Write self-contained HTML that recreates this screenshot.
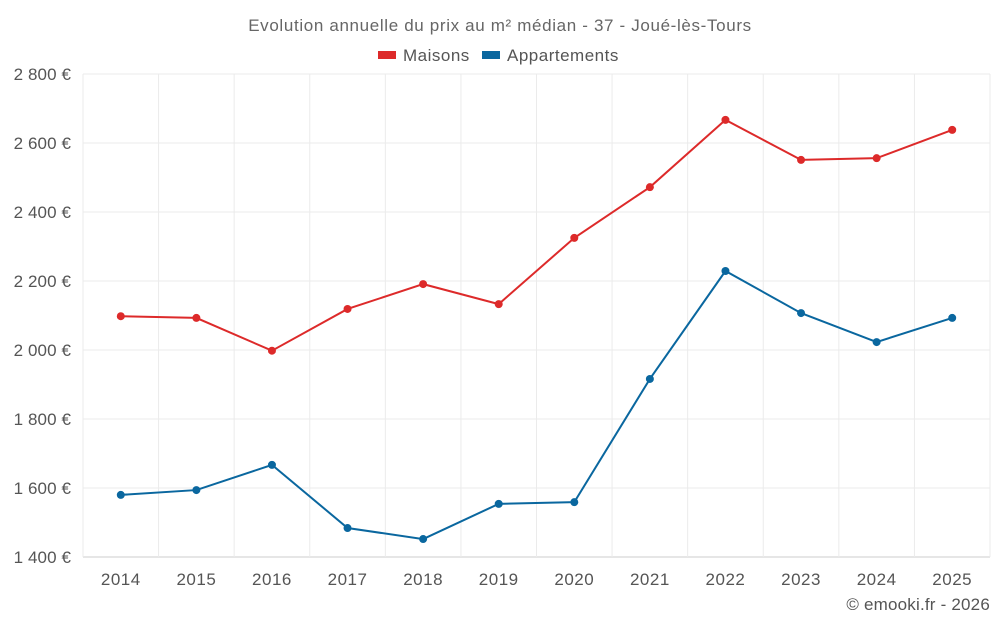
<!DOCTYPE html>
<html><head><meta charset="utf-8"><style>
body{margin:0;background:#fff;font-family:"Liberation Sans",sans-serif;}
svg text{font-family:"Liberation Sans",sans-serif;letter-spacing:0.5px;}
</style></head><body>
<svg id="chart" width="1000" height="625" viewBox="0 0 1000 625">
<text x="500" y="31" text-anchor="middle" font-size="17" fill="#666" style="letter-spacing:0.65px">Evolution annuelle du prix au m² médian - 37 - Joué-lès-Tours</text>
<g>
<g><rect x="378" y="51" width="18" height="8" fill="#dd2a2a"/><text x="403" y="61" font-size="17" fill="#555">Maisons</text></g>
<g><rect x="482" y="51" width="18" height="8" fill="#0a679f"/><text x="507" y="61" font-size="17" fill="#555">Appartements</text></g>
</g>
<g id="grid"></g><g id="axes"></g><g id="series"></g>
<text x="990" y="610" text-anchor="end" font-size="17" fill="#555" style="letter-spacing:0.2px">© emooki.fr - 2026</text>
</svg>
<script>
const years=["2014","2015","2016","2017","2018","2019","2020","2021","2022","2023","2024","2025"];
const maisons=[2098,2093,1998,2119,2191,2133,2325,2472,2667,2551,2556,2638];
const appartements=[1580,1594,1667,1484,1452,1554,1559,1916,2229,2107,2023,2093];
const yTicks=[1400,1600,1800,2000,2200,2400,2600,2800];
const L=83,R=990,T=74,B=557,yMin=1400,yMax=2800;
const NS="http://www.w3.org/2000/svg";
const bw=(R-L)/years.length;
const xs=i=>L+bw*(i+0.5);
const ys=v=>B-(v-yMin)/(yMax-yMin)*(B-T);
function mk(tag,attrs,parent){const e=document.createElementNS(NS,tag);for(const k in attrs)e.setAttribute(k,attrs[k]);parent.appendChild(e);return e;}
const grid=document.getElementById('grid'),axes=document.getElementById('axes'),ser=document.getElementById('series');
yTicks.forEach(t=>{
 const l=mk('line',{x1:L,x2:R,y1:ys(t),y2:ys(t),stroke:t===yMin?'#ccc':'#ebebeb'},grid);
 
 
 const tx=mk('text',{x:L-12,y:ys(t)+6,'text-anchor':'end','font-size':17,fill:'#555',style:'letter-spacing:0.1px'},axes);
 tx.textContent=t.toLocaleString('fr-FR').replace(/\u202f|\u00a0/g,' ')+' €';
 
 
});
for(let i=0;i<=years.length;i++){
 const l=mk('line',{x1:L+bw*i,x2:L+bw*i,y1:T,y2:B,stroke:'#ebebeb'},grid);
 
 
}
years.forEach((y,i)=>{
 const t=mk('text',{x:xs(i),y:585,'text-anchor':'middle','font-size':17,fill:'#555'},axes);
 t.textContent=y;
 
 
});
function draw(vals,color,name){
 const p=mk('polyline',{points:vals.map((v,i)=>xs(i)+','+ys(v)).join(' '),fill:'none',stroke:color,'stroke-width':2},ser);
 
 
 vals.forEach((v,i)=>{
  const c=mk('circle',{cx:xs(i),cy:ys(v),r:4,fill:color},ser);
  
  
 });
}
draw(maisons,'#dd2a2a','maisons');
draw(appartements,'#0a679f','appartements');
</script>
</body></html>
